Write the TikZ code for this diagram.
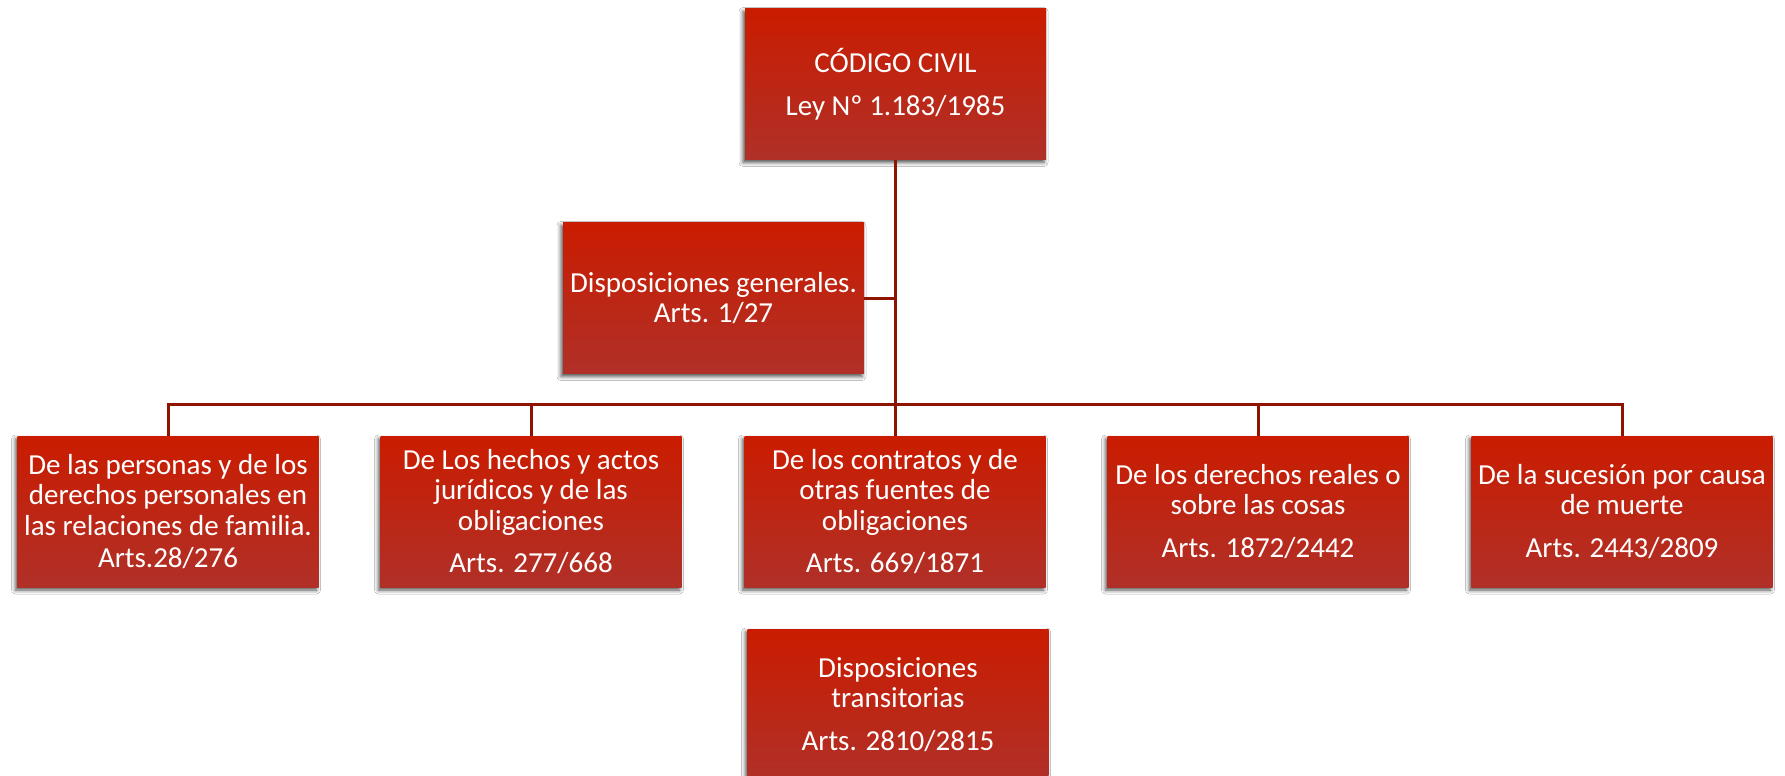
\documentclass[tikz,border=0pt]{standalone}
\usepackage{fontspec}
\setmainfont{Carlito}
\usetikzlibrary{shadows.blur}
\definecolor{boxtop}{RGB}{202,28,0}
\definecolor{boxbot}{RGB}{176,48,40}
\definecolor{linkred}{RGB}{142,20,0}
\tikzset{
  redbox/.style={rectangle, minimum width=301pt, minimum height=151pt, inner sep=0pt,
    top color=boxtop, bottom color=boxbot, draw=none, text=white, align=center,
    font=\fontsize{29}{30.5}\selectfont,
    blur shadow={shadow xshift=-2pt, shadow yshift=-3pt, shadow blur radius=4pt, shadow opacity=70}},
  conn/.style={draw=linkred, line width=3pt}
}
\begin{document}
\begin{tikzpicture}[x=1pt,y=-1pt]
\useasboundingbox (0,0) rectangle (1785,776);
\clip (0,0) rectangle (1785,776);
\fill[white] (0,0) rectangle (1785,776);
\node[redbox] (top) at (895.5,84) {CÓDIGO CIVIL\\[12pt]Ley Nº 1.183/1985};
\node[redbox] (gen) at (713.5,298) {Disposiciones generales.\\Arts. 1/27};
\node[redbox] (b1) at (168,511.5) {De las personas y de los\\derechos personales en\\las relaciones de familia.\\[2pt]Arts.28/276};
\node[redbox] (b2) at (531,511.5) {De Los hechos y actos\\jurídicos y de las\\obligaciones\\[12pt]Arts. 277/668};
\node[redbox] (b3) at (895,511.5) {De los contratos y de\\otras fuentes de\\obligaciones\\[12pt]Arts. 669/1871};
\node[redbox] (b4) at (1258,511.5) {De los derechos reales o\\sobre las cosas\\[12pt]Arts. 1872/2442};
\node[redbox] (b5) at (1622,511.5) {De la sucesión por causa\\de muerte\\[12pt]Arts. 2443/2809};
\node[redbox] (tr) at (898,704.5) {Disposiciones\\transitorias\\[12pt]Arts. 2810/2815};
\coordinate (bus) at (895.5,404);
\draw[conn] (top.south) -- (bus);
\draw[conn] (gen.east) -- (gen.east -| top.south);
\draw[conn] (b1.north) -- (b1.north |- bus) -- (b5.north |- bus) -- (b5.north);
\draw[conn] (b2.north) -- (b2.north |- bus);
\draw[conn] (b3.north) -- (b3.north |- bus);
\draw[conn] (b4.north) -- (b4.north |- bus);
\end{tikzpicture}
\end{document}
